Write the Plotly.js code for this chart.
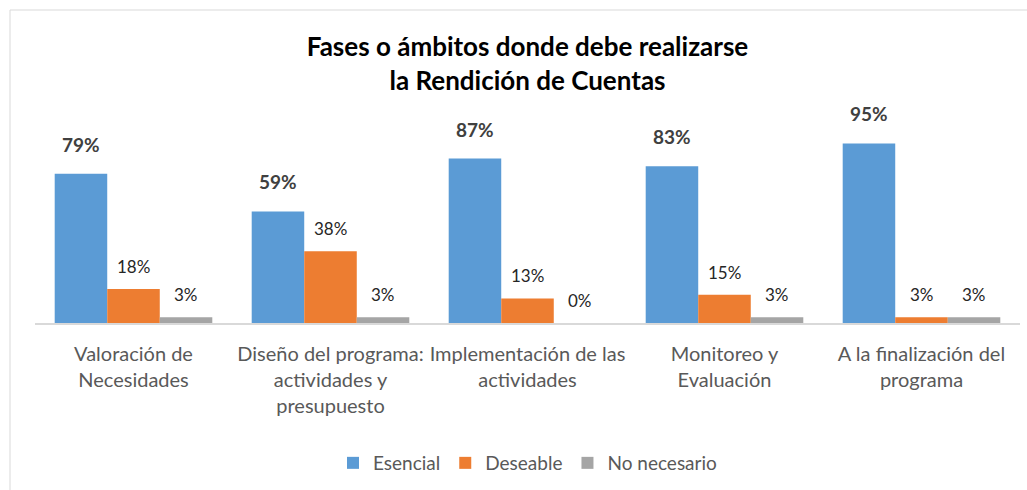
<!DOCTYPE html>
<html>
<head>
<meta charset="utf-8">
<script src="https://cdn.plot.ly/plotly-3.0.1.min.js"></script>
<style>
  html, body { margin: 0; padding: 0; background: #fff; }
  #chart { width: 1027px; height: 490px; }
</style>
</head>
<body>
<div id="chart"></div>
<script>
const categories = [
  "Valoración de<br>Necesidades",
  "Diseño del programa:<br>actividades y<br>presupuesto",
  "Implementación de las<br>actividades",
  "Monitoreo y<br>Evaluación",
  "A la finalización del<br>programa"
];
const seriesNames = ["Esencial", "Deseable", "No necesario"];
const esencial = [79, 59, 87, 83, 95];
const deseable = [18, 38, 13, 15, 3];
const noNecesario = [3, 3, 0, 3, 3];
const seriesValues = [esencial, deseable, noNecesario];
const seriesColors = ["#5B9BD5", "#ED7D31", "#A5A5A5"];

const FONT = "Lato, 'Open Sans', sans-serif";

const W = 1027, H = 490;
const margin = { l: 35, r: 7, t: 134, b: 167 };
const plotW = W - margin.l - margin.r;
const plotH = H - margin.t - margin.b;
const px2x = px => (px - margin.l) / plotW;
const py2y = py => (H - margin.b - py) / plotH;

const traces = seriesValues.map((vals, i) => ({
  type: "bar",
  name: seriesNames[i],
  x: categories,
  y: vals,
  marker: { color: seriesColors[i] },
  hoverinfo: "skip"
}));

const barW = plotW / categories.length * 0.8 / 3;
const annotations = [];
seriesValues.forEach((vals, i) => {
  vals.forEach((v, j) => {
    annotations.push({
      x: categories[j],
      y: v,
      xref: "x",
      yref: "y",
      text: i === 0 ? "<b>" + v + "%</b>" : v + "%",
      showarrow: false,
      xanchor: "center",
      yanchor: "bottom",
      xshift: (i - 1) * barW,
      yshift: i === 0 ? 16 : 10,
      font: { family: FONT, size: i === 0 ? 19 : 17, color: i === 0 ? "#404040" : "#262626" }
    });
  });
});

const layout = {
  width: W,
  height: H,
  margin: margin,
  paper_bgcolor: "#ffffff",
  plot_bgcolor: "#ffffff",
  barmode: "group",
  bargap: 0.2,
  bargroupgap: 0,
  title: {
    text: "<b>Fases o ámbitos donde debe realizarse<br>la Rendición de Cuentas</b>",
    font: { family: FONT, size: 26, color: "#000000" },
    x: 0.5, xref: "paper", xanchor: "center",
    y: 1 - 56 / H, yref: "container", yanchor: "top"
  },
  xaxis: {
    type: "category",
    showline: true,
    linecolor: "#d9d9d9",
    linewidth: 2,
    ticks: "outside",
    ticklen: 12,
    tickcolor: "rgba(0,0,0,0)",
    tickfont: { family: FONT, size: 20, color: "#595959" },
    showgrid: false,
    zeroline: false,
    fixedrange: true
  },
  yaxis: {
    range: [0, 100],
    visible: false,
    showgrid: false,
    zeroline: false,
    fixedrange: true
  },
  showlegend: true,
  legend: {
    orientation: "h",
    x: 0.5, xanchor: "center",
    y: py2y(463), yanchor: "middle",
    font: { family: FONT, size: 19, color: "#595959" },
    itemclick: false
  },
  annotations: annotations,
  shapes: [
    { type: "line", xref: "paper", yref: "paper", x0: px2x(10), x1: px2x(1030), y0: py2y(10), y1: py2y(10),
      line: { color: "#d9d9d9", width: 1 }, layer: "below" },
    { type: "line", xref: "paper", yref: "paper", x0: px2x(10), x1: px2x(10), y0: py2y(10), y1: py2y(495),
      line: { color: "#d9d9d9", width: 1 }, layer: "below" }
  ]
};

Plotly.newPlot("chart", traces, layout, { displayModeBar: false, staticPlot: true });
</script>
</body>
</html>
